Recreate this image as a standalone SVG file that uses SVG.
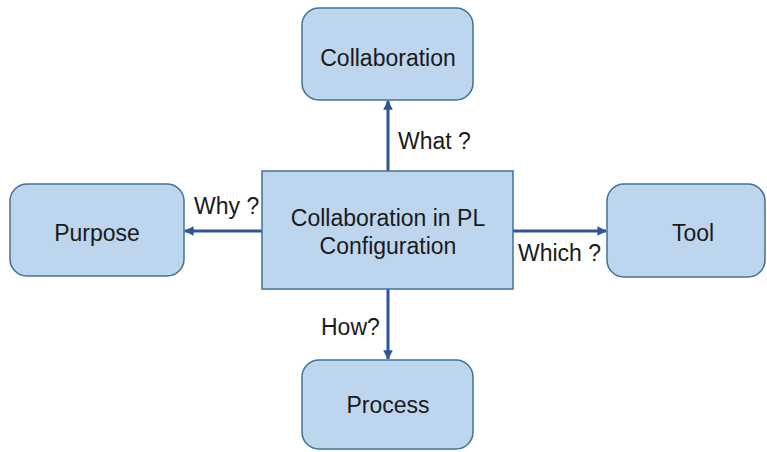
<svg xmlns="http://www.w3.org/2000/svg" width="767" height="452" viewBox="0 0 767 452">
  <style>
    .box { fill: #bdd6ee; stroke: #41719c; stroke-width: 1.5; }
    .lbl { font-family: "Liberation Sans", Arial, sans-serif; font-size: 23px; fill: #1a1a1a; }
    .ctr { text-anchor: middle; }
    .edge { stroke: #2f5597; stroke-width: 3; fill: none; marker-end: url(#arr); }
  </style>
  <defs>
    <marker id="arr" viewBox="0 0 10 10" refX="9" refY="5" markerWidth="3.2" markerHeight="3.2" orient="auto" markerUnits="strokeWidth">
      <path d="M0,0 L10,5 L0,10 Z" fill="#2f5597"/>
    </marker>
  </defs>
  <rect width="767" height="452" fill="#ffffff"/>

  <g id="connectors">
    <line class="edge" x1="388" y1="171" x2="388" y2="101"/>
    <line class="edge" x1="262" y1="231" x2="185" y2="231"/>
    <line class="edge" x1="513" y1="231" x2="606" y2="231"/>
    <line class="edge" x1="388" y1="289" x2="388" y2="359"/>
    <text class="lbl" x="398" y="149">What ?</text>
    <text class="lbl" x="194" y="214">Why ?</text>
    <text class="lbl" x="518" y="261">Which ?</text>
    <text class="lbl" x="321" y="335">How?</text>
  </g>

  <g id="center">
    <rect class="box" x="262" y="171" width="251" height="118"/>
    <text class="lbl ctr" x="388" y="226">Collaboration in PL</text>
    <text class="lbl ctr" x="388" y="254">Configuration</text>
  </g>

  <g id="collaboration">
    <rect class="box" x="302" y="8" width="171" height="92" rx="17"/>
    <text class="lbl ctr" x="388" y="66">Collaboration</text>
  </g>

  <g id="purpose">
    <rect class="box" x="10" y="184" width="174" height="92" rx="17"/>
    <text class="lbl ctr" x="97" y="241">Purpose</text>
  </g>

  <g id="tool">
    <rect class="box" x="607" y="184" width="158" height="93" rx="17"/>
    <text class="lbl ctr" x="693" y="241">Tool</text>
  </g>

  <g id="process">
    <rect class="box" x="302" y="360" width="171" height="89" rx="17"/>
    <text class="lbl ctr" x="388" y="413">Process</text>
  </g>
</svg>
